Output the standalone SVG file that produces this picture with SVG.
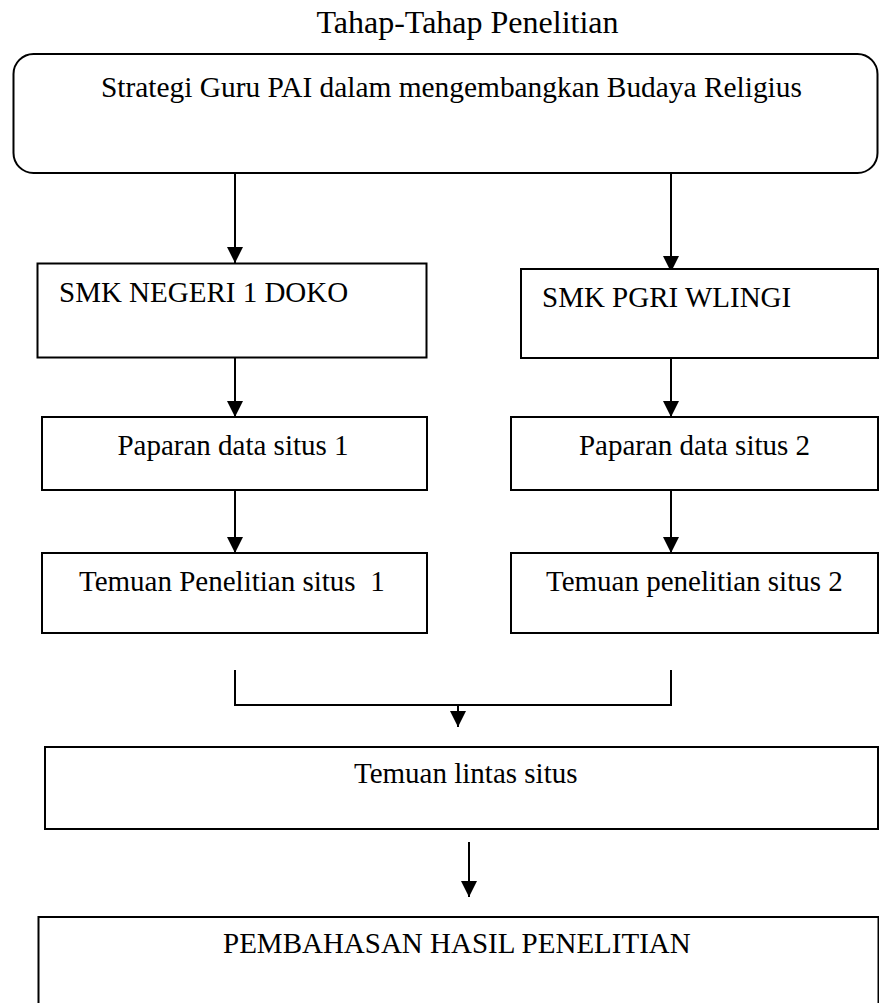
<svg xmlns="http://www.w3.org/2000/svg" width="879" height="1003" viewBox="0 0 879 1003">
<style>
.box{fill:#fff;stroke:#000;stroke-width:2}
.t{font-family:"Liberation Serif","Times New Roman",serif;font-size:29px;fill:#000}
.c{stroke:#000;stroke-width:2;fill:none}
</style>
<defs>
<marker id="arr" markerWidth="16" markerHeight="16" refX="16" refY="8" orient="auto" markerUnits="userSpaceOnUse">
<path d="M0,0 L16,8 L0,16 z" fill="#000"/>
</marker>
</defs>
<rect width="879" height="1003" fill="#fff"/>
<text class="t" x="467.5" y="33" text-anchor="middle" style="font-size:32px">Tahap-Tahap Penelitian</text>
<g id="connectors">
<line class="c" x1="235" y1="173" x2="235" y2="263" marker-end="url(#arr)"/>
<line class="c" x1="671" y1="173" x2="671" y2="272" marker-end="url(#arr)"/>
<line class="c" x1="235" y1="358" x2="235" y2="417" marker-end="url(#arr)"/>
<line class="c" x1="671" y1="358" x2="671" y2="417" marker-end="url(#arr)"/>
<line class="c" x1="235" y1="490" x2="235" y2="553" marker-end="url(#arr)"/>
<line class="c" x1="671" y1="490" x2="671" y2="553" marker-end="url(#arr)"/>
<polyline class="c" points="235,670 235,705 671,705 671,670"/>
<line class="c" x1="458" y1="705" x2="458" y2="727" marker-end="url(#arr)"/>
<line class="c" x1="469" y1="842" x2="469" y2="897" marker-end="url(#arr)"/>
</g>
<g id="n-strategi">
<rect class="box" x="13.5" y="54" width="864" height="119" rx="20"/>
<text class="t" x="101" y="97" style="font-size:29.4px">Strategi Guru PAI dalam mengembangkan Budaya Religius</text>
</g>
<g id="n-smk1">
<rect class="box" x="37.5" y="263.5" width="389" height="94"/>
<text class="t" x="59" y="302">SMK NEGERI 1 DOKO</text>
</g>
<g id="n-smk2">
<rect class="box" x="521" y="269" width="357" height="89"/>
<text class="t" x="542" y="307">SMK PGRI WLINGI</text>
</g>
<g id="n-pap1">
<rect class="box" x="42" y="417" width="385" height="73"/>
<text class="t" x="233" y="455" text-anchor="middle">Paparan data situs 1</text>
</g>
<g id="n-pap2">
<rect class="box" x="511" y="417" width="367" height="73"/>
<text class="t" x="694.5" y="455" text-anchor="middle">Paparan data situs 2</text>
</g>
<g id="n-tem1">
<rect class="box" x="42" y="553" width="385" height="80"/>
<text class="t" x="79" y="591" xml:space="preserve">Temuan Penelitian situs  1</text>
</g>
<g id="n-tem2">
<rect class="box" x="511" y="553" width="367" height="80"/>
<text class="t" x="546" y="591">Temuan penelitian situs 2</text>
</g>
<g id="n-lintas">
<rect class="box" x="45" y="747" width="833" height="82"/>
<text class="t" x="354" y="783">Temuan lintas situs</text>
</g>
<g id="n-pembahasan">
<rect class="box" x="38.5" y="917" width="840" height="100"/>
<text class="t" x="223" y="953">PEMBAHASAN HASIL PENELITIAN</text>
</g>
</svg>
